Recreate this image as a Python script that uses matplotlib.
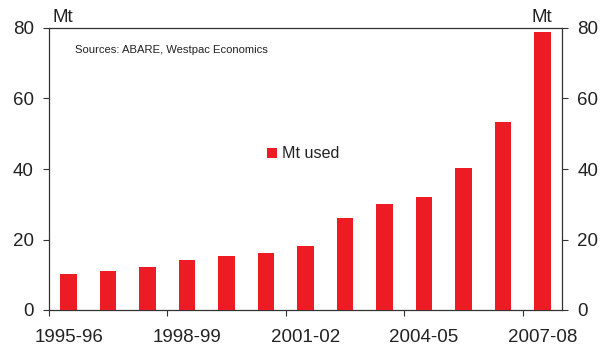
import matplotlib
matplotlib.use("Agg")
import matplotlib.pyplot as plt
import numpy as np

plt.rcParams['font.family'] = ['Liberation Sans', 'DejaVu Sans']

categories = ["1995-96", "1996-97", "1997-98", "1998-99", "1999-00", "2000-01", "2001-02",
              "2002-03", "2003-04", "2004-05", "2005-06", "2006-07", "2007-08"]
mt_used = [10.1, 11.0, 12.1, 14.1, 15.3, 16.1, 18.1, 26.0, 30.0, 32.0, 40.2, 53.2, 79.0]
label_every = 3
yticks = [0, 20, 40, 60, 80]

red = "#ED1C24"
tc = '#333333'
fs = 13.5
fig = plt.figure(figsize=(6.08, 3.49), dpi=100)
ax = fig.add_axes([49/608, 39/349, (562-49)/608, (310-28)/349])
x = np.arange(len(categories))
ax.bar(x, mt_used, width=0.42, color=red, label="Mt used", zorder=3)
ax.set_xlim(-0.5, len(categories) - 0.5)
ax.set_ylim(0, 80)
ax.set_yticks(yticks)
ax.tick_params(axis='y', labelsize=fs, length=4.5, width=0.8, color=tc, pad=6.5, labelcolor='#222222')

# major ticks at boundaries, labels at centers via minor ticks
ax.set_xticks(np.arange(0, len(categories), label_every) - 0.5)
ax.set_xticklabels([])
ax.set_xticks(np.arange(0, len(categories), label_every), minor=True)
ax.set_xticklabels(categories[::label_every], minor=True)
ax.tick_params(axis='x', which='major', length=4.5, width=0.8, color=tc)
ax.tick_params(axis='x', which='minor', length=0, labelsize=fs, pad=14, labelcolor='#222222')

for s in ['left', 'right', 'bottom', 'top']:
    ax.spines[s].set_linewidth(0.9)
    ax.spines[s].set_color(tc)

ax2 = ax.twinx()
ax2.set_ylim(0, 80)
ax2.set_yticks(yticks)
ax2.tick_params(axis='y', labelsize=fs, length=4.5, width=0.8, color=tc, pad=6.5, labelcolor='#222222')
for s in ['left', 'right', 'bottom', 'top']:
    ax2.spines[s].set_visible(False)

fig.text(52/608, 1 - 17/349, "Mt", fontsize=fs, ha='left', va='center', color='#222222')
fig.text(541.5/608, 1 - 17/349, "Mt", fontsize=fs, ha='center', va='center', color='#222222')
fig.text(75/608, 1 - 50/349, "Sources: ABARE, Westpac Economics", fontsize=8.1,
         ha='left', va='center', color='#222222')

leg = ax.legend(loc='center', bbox_to_anchor=(303.5/608, 1 - 154/349), bbox_transform=fig.transFigure,
                frameon=False, fontsize=11.6, handlelength=0.56, handleheight=0.56, handletextpad=0.35)
for t in leg.get_texts():
    t.set_color('#222222')

fig.savefig("out.png", dpi=100)
